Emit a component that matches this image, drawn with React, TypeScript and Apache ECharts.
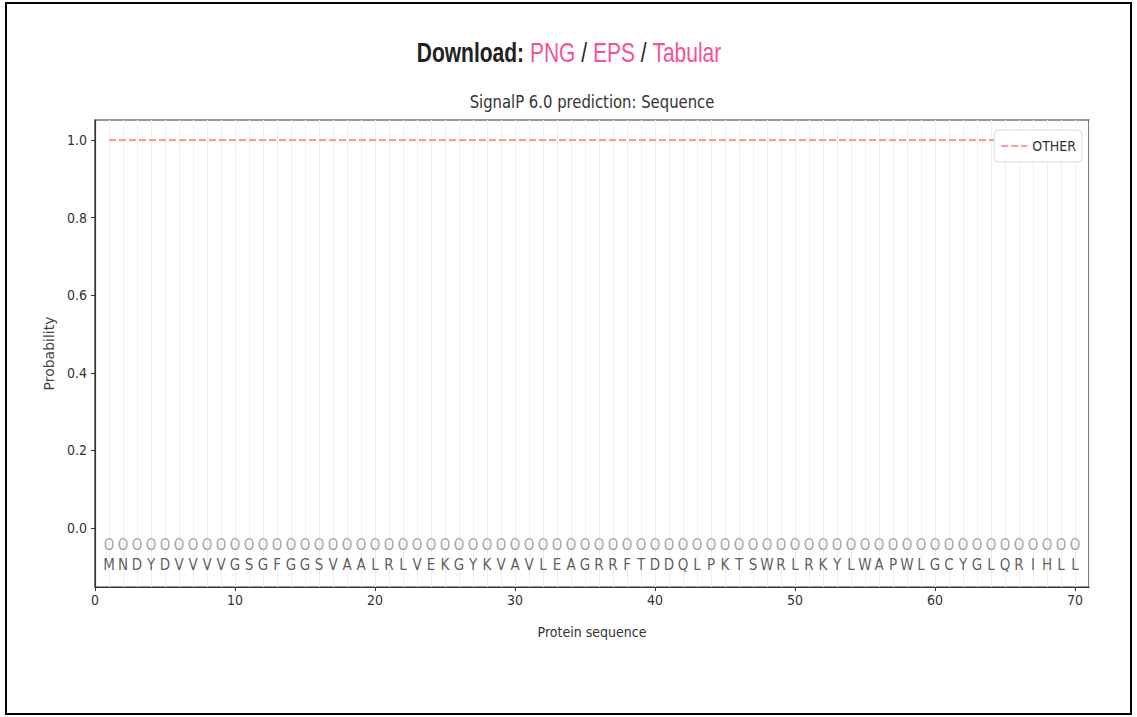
import React, { useEffect, useRef } from "react";
import * as echarts from "echarts";

const residues = "MNDYDVVVVGSGFGGSVAALRLVEKGYKVAVLEAGRRFTDDQLPKTSWRLRKYLWAPWLGCYGLQRIHLL".split("");
const regionLabels = [
  "O","O","O","O","O","O","O","O","O","O","O","O","O","O","O","O","O","O","O","O",
  "O","O","O","O","O","O","O","O","O","O","O","O","O","O","O","O","O","O","O","O",
  "O","O","O","O","O","O","O","O","O","O","O","O","O","O","O","O","O","O","O","O",
  "O","O","O","O","O","O","O","O","O","O",
];
const otherProb = [
  1.0,1.0,1.0,1.0,1.0,1.0,1.0,1.0,1.0,1.0,1.0,1.0,1.0,1.0,1.0,1.0,1.0,1.0,1.0,1.0,
  1.0,1.0,1.0,1.0,1.0,1.0,1.0,1.0,1.0,1.0,1.0,1.0,1.0,1.0,1.0,1.0,1.0,1.0,1.0,1.0,
  1.0,1.0,1.0,1.0,1.0,1.0,1.0,1.0,1.0,1.0,1.0,1.0,1.0,1.0,1.0,1.0,1.0,1.0,1.0,1.0,
  1.0,1.0,1.0,1.0,1.0,1.0,1.0,1.0,1.0,1.0,
];
const xTicks = [0, 10, 20, 30, 40, 50, 60, 70];
const yTicks = [0, 0.2, 0.4, 0.6, 0.8, 1.0];

const NARROW = '"DejaVu Sans Condensed", "DejaVu Sans", sans-serif';
const ARIAL = '"Liberation Sans", Arial, sans-serif';

export default function App() {
  const ref = useRef<HTMLDivElement>(null);
  useEffect(() => {
    document.body.style.margin = "0";
    if (!ref.current) return;
    const chart = echarts.init(ref.current, undefined, { renderer: "svg" });
    const n = residues.length;
    chart.setOption({
      animation: false,
      backgroundColor: "#fff",
      textStyle: { fontFamily: NARROW },
      grid: {
        left: 95,
        top: 120,
        right: 48,
        bottom: 130,
        show: true,
        borderColor: "#333",
        borderWidth: 1.2,
        backgroundColor: "transparent",
      },
      legend: {
        data: ["OTHER"],
        right: 55,
        top: 130,
        orient: "vertical",
        itemWidth: 26,
        itemHeight: 10,
        padding: [9, 6, 9, 6],
        borderColor: "#ddd",
        borderWidth: 1,
        borderRadius: 4,
        backgroundColor: "#fff",
        z: 10,
        itemStyle: { opacity: 0 },
        textStyle: { fontFamily: NARROW, fontSize: 14, color: "#333" },
      },
      xAxis: [
        {
          type: "value",
          min: 0,
          max: 71,
          name: "Protein sequence",
          nameLocation: "middle",
          nameGap: 38,
          nameTextStyle: { fontFamily: NARROW, fontSize: 14, color: "#333" },
          axisLine: { show: true, onZero: false, lineStyle: { color: "#333", width: 1.2 } },
          axisTick: { show: true, length: 4, lineStyle: { color: "#333" }, customValues: xTicks },
          axisLabel: {
            customValues: xTicks,
            fontFamily: NARROW,
            fontSize: 14,
            color: "#333",
            margin: 6,
          },
          splitLine: { show: false },
        },
        {
          type: "value",
          min: 0,
          max: 71,
          interval: 1,
          position: "bottom",
          show: true,
          axisLine: { show: false, onZero: false },
          axisTick: { show: false },
          axisLabel: { show: false },
          splitLine: { show: true, lineStyle: { color: "#efefef", width: 1 } },
        },
      ],
      yAxis: {
        type: "value",
        min: -0.152,
        max: 1.052,
        name: "Probability",
        nameLocation: "middle",
        nameGap: 36,
        nameRotate: 90,
        nameTextStyle: { fontFamily: '"DejaVu Sans", sans-serif', fontSize: 14, color: "#444" },
        axisLine: { show: true, onZero: false, lineStyle: { color: "#333", width: 1.2 } },
        axisTick: { show: true, length: 4, lineStyle: { color: "#333" }, customValues: yTicks },
        axisLabel: {
          customValues: yTicks,
          formatter: (v: number) => v.toFixed(1),
          fontFamily: NARROW,
          fontSize: 14,
          color: "#333",
          margin: 8,
        },
        splitLine: { show: false },
      },
      series: [
        {
          name: "OTHER",
          type: "line",
          xAxisIndex: 0,
          symbol: "none",
          data: otherProb.map((v, i) => [i + 1, v]),
          lineStyle: { color: "#ff9a9a", width: 2.2, type: [7, 3] },
          itemStyle: { color: "#ff9a9a" },
          z: 2,
        },
        {
          name: "regions",
          type: "scatter",
          xAxisIndex: 0,
          symbolSize: 1,
          itemStyle: { color: "transparent" },
          data: regionLabels.map((r, i) => ({ value: [i + 1, -0.044], name: r })),
          label: {
            show: true,
            position: "inside",
            formatter: "{b}",
            fontFamily: NARROW,
            fontSize: 15,
            color: "#8a8a8a",
          },
          silent: true,
        },
        {
          name: "residues",
          type: "scatter",
          xAxisIndex: 0,
          symbolSize: 1,
          itemStyle: { color: "transparent" },
          data: residues.slice(0, n).map((r, i) => ({ value: [i + 1, -0.095], name: r })),
          label: {
            show: true,
            position: "inside",
            formatter: "{b}",
            fontFamily: NARROW,
            fontSize: 15,
            color: "#333",
          },
          silent: true,
        },
      ],
      graphic: [
        {
          type: "rect",
          shape: { x: 6, y: 3, width: 1125, height: 711 },
          style: { fill: "none", stroke: "#000", lineWidth: 2 },
          silent: true,
        },
        {
          type: "text",
          x: 569,
          y: 52,
          scaleX: 0.75,
          style: {
            text: "{a|Download:} {b|PNG} {c|/} {b|EPS} {c|/} {b|Tabular}",
            align: "center",
            verticalAlign: "middle",
            rich: {
              a: { fontFamily: ARIAL, fontSize: 28, fontWeight: "bold", fill: "#222" },
              b: { fontFamily: ARIAL, fontSize: 28, fill: "#f7509a" },
              c: { fontFamily: ARIAL, fontSize: 28, fill: "#222" },
            },
            fontFamily: ARIAL,
            fontSize: 28,
          },
        },
        {
          type: "text",
          x: 592,
          y: 102,
          scaleX: 0.97,
          style: {
            text: "SignalP 6.0 prediction: Sequence",
            align: "center",
            verticalAlign: "middle",
            fontFamily: NARROW,
            fontSize: 17,
            fill: "#333",
          },
        },
      ],
    });
    return () => chart.dispose();
  }, []);
  return <div ref={ref} style={{ width: 1137, height: 717 }} />;
}
